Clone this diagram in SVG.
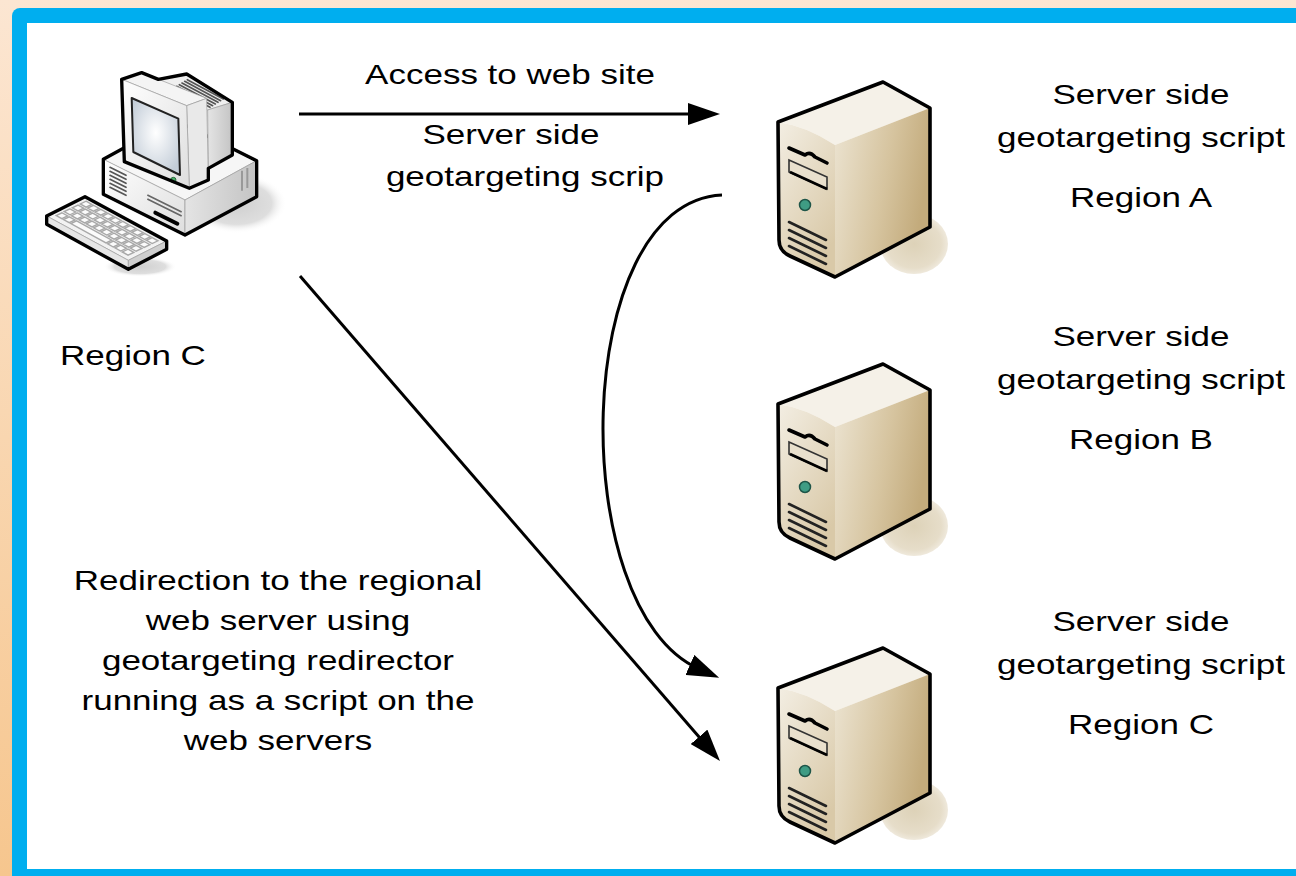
<svg xmlns="http://www.w3.org/2000/svg" xmlns:xlink="http://www.w3.org/1999/xlink" width="1296" height="876" viewBox="0 0 1296 876">
  <defs>
    <style>
      .lbl { font-family: "Liberation Sans", Arial, sans-serif; font-size: 28px; fill: #000; }
      .mid { text-anchor: middle; }
      .conn { fill: none; stroke: #000; stroke-width: 3; }
      .edge { stroke: #9a9a9a; stroke-width: 2; stroke-linejoin: round; }
      .sil { fill: none; stroke: #000; stroke-width: 10; stroke-linejoin: round; }
      .vent { stroke: #555; stroke-width: 5; stroke-linecap: round; }
      .svent { stroke: #222; stroke-width: 2.6; stroke-linecap: round; fill: none; }
      .key { fill: #fbfbfb; stroke: #a8a8a8; stroke-width: 1.4; }
    </style>
    <linearGradient id="bg" x1="0" y1="0" x2="0" y2="1">
      <stop offset="0" stop-color="#fce6d2"/>
      <stop offset="1" stop-color="#f6c68e"/>
    </linearGradient>
    <linearGradient id="pcFront" x1="0" y1="0" x2="1" y2="1">
      <stop offset="0" stop-color="#ffffff"/>
      <stop offset="1" stop-color="#dedede"/>
    </linearGradient>
    <linearGradient id="pcSide" x1="0" y1="0" x2="1" y2="0">
      <stop offset="0" stop-color="#e4e4e4"/>
      <stop offset="1" stop-color="#c4c4c4"/>
    </linearGradient>
    <radialGradient id="screen" cx="0.5" cy="0.45" r="0.6">
      <stop offset="0" stop-color="#ffffff"/>
      <stop offset="1" stop-color="#c3cdd8"/>
    </radialGradient>
    <radialGradient id="pcShadow" cx="0.5" cy="0.5" r="0.5">
      <stop offset="0" stop-color="#cfcfcf"/>
      <stop offset="0.7" stop-color="#dedede"/>
      <stop offset="1" stop-color="#ffffff" stop-opacity="0"/>
    </radialGradient>
    <radialGradient id="srvShadow" cx="0.5" cy="0.5" r="0.5">
      <stop offset="0" stop-color="#ddd2b8"/>
      <stop offset="0.8" stop-color="#e6ddc9"/>
      <stop offset="1" stop-color="#efe9dc"/>
    </radialGradient>
    <linearGradient id="srvFront" x1="0" y1="0" x2="0.6" y2="1">
      <stop offset="0" stop-color="#f3eee3"/>
      <stop offset="1" stop-color="#d9c9a8"/>
    </linearGradient>
    <linearGradient id="srvSide" x1="0" y1="0" x2="1" y2="0.3">
      <stop offset="0" stop-color="#ece4d2"/>
      <stop offset="0.6" stop-color="#d6c49f"/>
      <stop offset="1" stop-color="#c3ab7c"/>
    </linearGradient>
    <marker id="head" viewBox="0 0 32 22" refX="10" refY="11" markerWidth="32" markerHeight="22" markerUnits="userSpaceOnUse" orient="auto">
      <path d="M0,0 L32,11 L0,22 Z" fill="#000"/>
    </marker>

    <!-- tower server, drawn at the position of the top one -->
    <g id="server">
      <ellipse cx="914" cy="244" rx="34" ry="30" fill="url(#srvShadow)"/>
      <path d="M778,122 L883,82 L930,108 L835,145 Q806,126 778,122 Z" fill="#f5f1e8"/>
      <path d="M778,122 Q806,126 835,145 L835,277 L790,256 Q779,251 779,240 Z" fill="url(#srvFront)"/>
      <path d="M835,145 L930,108 L930,227 L835,277 Z" fill="url(#srvSide)"/>
      <path d="M778,122 L883,82 L930,108 L930,227 L835,277 L790,256 Q779,251 779,240 Z" fill="none" stroke="#000" stroke-width="3.6" stroke-linejoin="round"/>
      <path d="M789,148 L805,155 Q810,151 815,157 L827,163" fill="none" stroke="#000" stroke-width="3.6" stroke-linecap="round" stroke-linejoin="round"/>
      <path d="M789,160 L827,177 L827,189 L789,172 Z" fill="#e9e0cd" stroke="#333" stroke-width="1.6"/>
      <path d="M790,172 L827,189" stroke="#000" stroke-width="2.6"/>
      <circle cx="805" cy="205" r="5.5" fill="#3f9c84" stroke="#1e5548" stroke-width="1.5"/>
      <path class="svent" d="M789,222 L826,240 M789,230 L826,248 M789,238 L826,256 M789,246 L826,264"/>
    </g>
  </defs>

  <!-- frame -->
  <rect x="0" y="0" width="1296" height="876" fill="url(#bg)"/>
  <rect x="12" y="8" width="1300" height="900" rx="8" fill="#00aeef"/>
  <rect x="27" y="23" width="1290" height="846" fill="#ffffff"/>

  <!-- client workstation -->
  <g id="workstation" transform="translate(30 60) scale(0.33333)">
    <ellipse cx="620" cy="430" rx="150" ry="90" fill="url(#pcShadow)"/>
    <ellipse cx="330" cy="620" rx="110" ry="30" fill="url(#pcShadow)"/>
    <!-- base unit -->
    <path d="M220,298 L435,180 L680,302 L465,420 Z" fill="#f6f6f6" class="edge"/>
    <path d="M220,298 L465,420 L465,525 L220,403 Z" fill="url(#pcFront)" class="edge"/>
    <path d="M465,420 L680,302 L680,410 L465,525 Z" fill="url(#pcSide)" class="edge"/>
    <path class="vent" d="M240,322 L288,346 M240,334 L288,358 M240,346 L288,370 M240,358 L288,382 M240,370 L288,394 M240,382 L288,406"/>
    <path d="M352,405 L455,456 M352,417 L455,468" stroke="#666" stroke-width="5"/>
    <path d="M376,458 L442,491" stroke="#000" stroke-width="12" stroke-linecap="round"/>
    <path d="M636,332 L636,392 M652,324 L652,384" stroke="#999" stroke-width="6"/>
    <path class="sil" d="M220,298 L435,180 L680,302 L680,410 L465,525 L220,403 Z"/>
    <!-- monitor housing -->
    <path d="M385,60 L470,42 L607,127 L533,150 Z" fill="#efefef" class="edge"/>
    <path d="M533,150 L607,127 L607,285 L535,325 Z" fill="url(#pcSide)" class="edge"/>
    <path class="vent" d="M432,84 L540,142 M440,79 L548,137 M448,74 L556,132 M456,69 L564,127 M464,64 L572,122 M472,59 L580,117"/>
    <!-- monitor bezel -->
    <path d="M275,58 L335,38 L530,115 L470,137 Z" fill="#f4f4f4" class="edge"/>
    <path d="M470,137 L530,115 L535,360 L478,385 Z" fill="#e9e9e9" class="edge"/>
    <path d="M275,58 L470,137 L478,385 L283,305 Z" fill="url(#pcFront)" class="edge"/>
    <path d="M305,114 L445,176 L450,345 L310,276 Z" fill="url(#screen)" stroke="#222" stroke-width="6" stroke-linejoin="round"/>
    <circle cx="430" cy="360" r="8" fill="#4caf6a" stroke="#2a6a3c" stroke-width="3"/>
    <path class="sil" d="M275,58 L335,38 L385,58 L470,42 L607,127 L607,285 L535,325 L535,360 L478,385 L283,305 Z"/>
    <!-- keyboard -->
    <path d="M50,468 L165,410 L410,543 L295,601 Z" fill="#f2f2f2" class="edge"/>
    <path d="M50,468 L295,601 L295,628 L50,493 Z" fill="#e6e6e6" class="edge"/>
    <path d="M295,601 L410,543 L410,568 L295,628 Z" fill="#cfcfcf" class="edge"/>
    <g transform="matrix(245 135 -115 55 165 410)">
      <rect class="key" vector-effect="non-scaling-stroke" x="0.06" y="0.10" width="0.07" height="0.15"/>
      <rect class="key" vector-effect="non-scaling-stroke" x="0.15" y="0.10" width="0.07" height="0.15"/>
      <rect class="key" vector-effect="non-scaling-stroke" x="0.24" y="0.10" width="0.07" height="0.15"/>
      <rect class="key" vector-effect="non-scaling-stroke" x="0.33" y="0.10" width="0.07" height="0.15"/>
      <rect class="key" vector-effect="non-scaling-stroke" x="0.42" y="0.10" width="0.07" height="0.15"/>
      <rect class="key" vector-effect="non-scaling-stroke" x="0.51" y="0.10" width="0.07" height="0.15"/>
      <rect class="key" vector-effect="non-scaling-stroke" x="0.60" y="0.10" width="0.07" height="0.15"/>
      <rect class="key" vector-effect="non-scaling-stroke" x="0.69" y="0.10" width="0.07" height="0.15"/>
      <rect class="key" vector-effect="non-scaling-stroke" x="0.78" y="0.10" width="0.07" height="0.15"/>
      <rect class="key" vector-effect="non-scaling-stroke" x="0.87" y="0.10" width="0.07" height="0.15"/>
      <rect class="key" vector-effect="non-scaling-stroke" x="0.06" y="0.31" width="0.07" height="0.15"/>
      <rect class="key" vector-effect="non-scaling-stroke" x="0.15" y="0.31" width="0.07" height="0.15"/>
      <rect class="key" vector-effect="non-scaling-stroke" x="0.24" y="0.31" width="0.07" height="0.15"/>
      <rect class="key" vector-effect="non-scaling-stroke" x="0.33" y="0.31" width="0.07" height="0.15"/>
      <rect class="key" vector-effect="non-scaling-stroke" x="0.42" y="0.31" width="0.07" height="0.15"/>
      <rect class="key" vector-effect="non-scaling-stroke" x="0.51" y="0.31" width="0.07" height="0.15"/>
      <rect class="key" vector-effect="non-scaling-stroke" x="0.60" y="0.31" width="0.07" height="0.15"/>
      <rect class="key" vector-effect="non-scaling-stroke" x="0.69" y="0.31" width="0.07" height="0.15"/>
      <rect class="key" vector-effect="non-scaling-stroke" x="0.78" y="0.31" width="0.07" height="0.15"/>
      <rect class="key" vector-effect="non-scaling-stroke" x="0.87" y="0.31" width="0.07" height="0.15"/>
      <rect class="key" vector-effect="non-scaling-stroke" x="0.06" y="0.52" width="0.07" height="0.15"/>
      <rect class="key" vector-effect="non-scaling-stroke" x="0.15" y="0.52" width="0.07" height="0.15"/>
      <rect class="key" vector-effect="non-scaling-stroke" x="0.24" y="0.52" width="0.07" height="0.15"/>
      <rect class="key" vector-effect="non-scaling-stroke" x="0.33" y="0.52" width="0.07" height="0.15"/>
      <rect class="key" vector-effect="non-scaling-stroke" x="0.42" y="0.52" width="0.07" height="0.15"/>
      <rect class="key" vector-effect="non-scaling-stroke" x="0.51" y="0.52" width="0.07" height="0.15"/>
      <rect class="key" vector-effect="non-scaling-stroke" x="0.60" y="0.52" width="0.07" height="0.15"/>
      <rect class="key" vector-effect="non-scaling-stroke" x="0.69" y="0.52" width="0.07" height="0.15"/>
      <rect class="key" vector-effect="non-scaling-stroke" x="0.78" y="0.52" width="0.07" height="0.15"/>
      <rect class="key" vector-effect="non-scaling-stroke" x="0.87" y="0.52" width="0.07" height="0.15"/>
      <rect class="key" vector-effect="non-scaling-stroke" x="0.06" y="0.73" width="0.07" height="0.15"/>
      <rect class="key" vector-effect="non-scaling-stroke" x="0.15" y="0.73" width="0.07" height="0.15"/>
      <rect class="key" vector-effect="non-scaling-stroke" x="0.24" y="0.73" width="0.43" height="0.15"/>
      <rect class="key" vector-effect="non-scaling-stroke" x="0.69" y="0.73" width="0.07" height="0.15"/>
      <rect class="key" vector-effect="non-scaling-stroke" x="0.78" y="0.73" width="0.07" height="0.15"/>
      <rect class="key" vector-effect="non-scaling-stroke" x="0.87" y="0.73" width="0.07" height="0.15"/>
    </g>
    <path class="sil" d="M50,468 L165,410 L410,543 L410,568 L295,628 L50,493 Z"/>
  </g>

  <!-- regional web servers -->
  <g id="server-a"><use xlink:href="#server"/></g>
  <g id="server-b"><use xlink:href="#server" transform="translate(0 282)"/></g>
  <g id="server-c"><use xlink:href="#server" transform="translate(0 566)"/></g>

  <!-- connectors -->
  <g id="connectors">
    <path class="conn" d="M299,114 L698,114" marker-end="url(#head)"/>
    <path class="conn" d="M722,195 C570,202 565,610 699,669" marker-end="url(#head)"/>
    <path class="conn" d="M300,276 L705.6,744.4" marker-end="url(#head)"/>
  </g>

  <!-- labels (glyphs widened horizontally) -->
  <g id="labels" transform="scale(1.25 1)">
    <text class="lbl mid" x="408" y="84">Access to web site</text>
    <text class="lbl mid" x="408.8" y="144">Server side</text>
    <text class="lbl mid" x="420" y="186">geotargeting scrip</text>

    <text class="lbl mid" x="912.8" y="104">Server side</text>
    <text class="lbl mid" x="912.8" y="147">geotargeting script</text>
    <text class="lbl mid" x="912.8" y="207">Region A</text>

    <text class="lbl mid" x="912.8" y="346">Server side</text>
    <text class="lbl mid" x="912.8" y="389">geotargeting script</text>
    <text class="lbl mid" x="912.8" y="449">Region B</text>

    <text class="lbl mid" x="912.8" y="631">Server side</text>
    <text class="lbl mid" x="912.8" y="674">geotargeting script</text>
    <text class="lbl mid" x="912.8" y="734">Region C</text>

    <text class="lbl" x="48" y="365">Region C</text>

    <text class="lbl mid" x="222.4" y="590">Redirection to the regional</text>
    <text class="lbl mid" x="222.4" y="630">web server using</text>
    <text class="lbl mid" x="222.4" y="670">geotargeting redirector</text>
    <text class="lbl mid" x="222.4" y="710">running as a script on the</text>
    <text class="lbl mid" x="222.4" y="750">web servers</text>
  </g>
</svg>
